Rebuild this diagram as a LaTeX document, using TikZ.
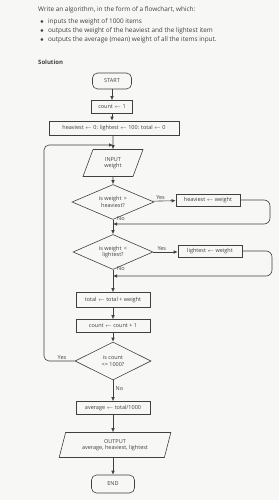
\documentclass[tikz,border=0pt]{standalone}
\usepackage{fontspec}
\setmainfont{Open Sans}
\usetikzlibrary{shapes.geometric,arrows.meta}
\definecolor{ink}{HTML}{404040}
\definecolor{pagebg}{HTML}{F7F7F5}
\tikzset{
  every node/.style={font=\fontsize{5.5}{6.5}\selectfont, text=ink},
  proc/.style={draw=ink, line width=0.6pt, rectangle, inner sep=0pt, minimum height=13pt},
  term/.style={draw=ink, line width=0.6pt, rectangle, rounded corners=5pt, inner sep=0pt, minimum height=16pt},
  io/.style={draw=ink, line width=0.6pt, trapezium, trapezium left angle=70, trapezium right angle=110, trapezium stretches=true, inner sep=0pt, align=center},
  dec/.style={draw=ink, line width=0.6pt, diamond, aspect=2.3, inner sep=0pt, align=center},
  flow/.style={draw=ink, line width=0.6pt, -{Latex[length=4pt,width=3.5pt]}},
  lbl/.style={font=\fontsize{5.5}{6.5}\selectfont, inner sep=1pt},
  head/.style={font=\fontsize{6.4}{7.5}\selectfont, text=ink, anchor=west, inner sep=0pt}
}
\begin{document}
\begin{tikzpicture}[x=1pt,y=-1pt]
\fill[pagebg] (0,0) rectangle (279,500);
\useasboundingbox (0,0) rectangle (279,500);
% header
\node[head] (h0) at (38,10) {Write an algorithm, in the form of a flowchart, which:};
\node[head] (b1) at (40,22) {$\bullet$\hspace{4pt}inputs the weight of 1000 items};
\node[head] (b2) at (40,31) {$\bullet$\hspace{4pt}outputs the weight of the heaviest and the lightest item};
\node[head] (b3) at (40,40) {$\bullet$\hspace{4pt}outputs the average (mean) weight of all the items input.};
\node[head, font=\bfseries\fontsize{6}{7}\selectfont] (sol) at (38,62) {Solution};
% flowchart
\node[term, minimum width=39pt] (start) at (112,81) {START};
\node[proc, minimum width=41pt] (cnt) at (112,107) {count $\leftarrow$ 1};
\node[proc, minimum width=130pt, minimum height=14pt] (init) at (114,128) {heaviest $\leftarrow$ 0: lightest $\leftarrow$ 100: total $\leftarrow$ 0};
\node[io, minimum width=60pt, minimum height=27pt] (inp) at (113,163) {INPUT\\weight};
\node[dec, minimum width=82pt, minimum height=35pt] (d1) at (113,202) {is weight \,>\\heaviest?};
\node[proc, minimum width=64pt, minimum height=12pt] (hw) at (208,200) {heaviest $\leftarrow$ weight};
\node[dec, minimum width=80pt, minimum height=35pt] (d2) at (113,252) {is weight \,<\\lightest?};
\node[proc, minimum width=64pt, minimum height=12pt] (lw) at (210,251) {lightest $\leftarrow$ weight};
\node[proc, minimum width=74pt, minimum height=15pt] (tot) at (113,300) {total $\leftarrow$ total + weight};
\node[proc, minimum width=74pt, minimum height=13pt] (inc) at (113,326) {count $\leftarrow$ count + 1};
\node[dec, minimum width=76pt, minimum height=38pt] (d3) at (113,361) {is count\\<= 1000?};
\node[proc, minimum width=74pt, minimum height=13pt] (avg) at (113,408) {average $\leftarrow$ total/1000};
\node[io, minimum width=112pt, minimum height=25pt] (out) at (115,445) {OUTPUT\\average, heaviest, lightest};
\node[term, minimum width=43pt, minimum height=18pt] (end) at (113,484) {END};
% join points
\coordinate (j0) at (113,145);
\coordinate (j1) at (113,224);
\coordinate (j2) at (113,276);
% connectors
\draw[flow] (start) -- (cnt);
\draw[flow] (cnt) -- (cnt |- init.north);
\draw[flow] (init.south -| inp) -- (inp);
\draw[flow] (inp) -- (d1);
\draw[flow] (d1) -- (d2);
\draw[flow] (d2) -- (tot);
\draw[flow] (tot) -- (inc);
\draw[flow] (inc) -- (d3);
\draw[flow] (d3) -- (avg);
\draw[flow] (avg) -- (avg.south |- out.north);
\draw[flow] (out.south -| end) -- (end);
\draw[flow] (d1) -- node[lbl, above, pos=0.35] {Yes} (hw);
\draw[flow] (d2) -- node[lbl, above, pos=0.35] {Yes} (d2 -| lw.west);
\draw[flow, rounded corners=6pt] (hw.east) -- (270,200) -- (270,224) -- (j1);
\draw[flow, rounded corners=6pt] (lw.east) -- (272,251) -- (272,276) -- (j2);
\draw[flow, rounded corners=5pt] (d3.west) -- (44,361) -- (44,145) -- (j0);
\node[lbl, anchor=west] (no1) at ([xshift=3pt,yshift=1pt]d1.south) {No};
\node[lbl, anchor=west] (no2) at ([xshift=3pt,yshift=1pt]d2.south) {No};
\node[lbl, anchor=west] (no3) at ([xshift=1.5pt,yshift=-8pt]d3.south) {No};
\node[lbl, anchor=south] (yes3) at (62,361) {Yes};
\end{tikzpicture}
\end{document}
